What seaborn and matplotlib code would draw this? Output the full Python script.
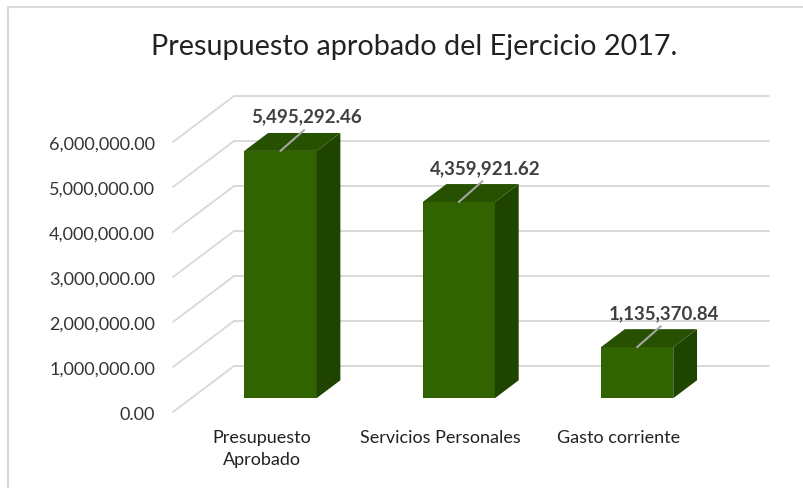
import matplotlib.pyplot as plt
import seaborn as sns
import pandas as pd
import numpy as np
from matplotlib.patches import Polygon
from matplotlib.lines import Line2D

# datos
categorias = ['Presupuesto\nAprobado', 'Servicios Personales', 'Gasto corriente']
montos = [5495292.46, 4359921.62, 1135370.84]
yticks = [0, 1000000, 2000000, 3000000, 4000000, 5000000, 6000000]
titulo = 'Presupuesto aprobado del Ejercicio 2017.'

c_front = '#316300'
c_top = '#275000'
c_side = '#1f4400'
c_grid = '#d9d9d9'

sns.set_style('white')
plt.rcParams['font.family'] = ['Lato', 'DejaVu Sans']

df = pd.DataFrame({'cat': categorias, 'monto': montos})

fig = plt.figure(figsize=(8.04, 4.89), dpi=100)
ax = fig.add_axes([173 / 804, 1 - 413 / 489, 535 / 804, 270 / 489])

sns.barplot(data=df, x='cat', y='monto', color=c_front, width=0.405,
            saturation=1, linewidth=0, ax=ax, zorder=3)
ax.set_xlim(-0.5, len(categorias) - 0.5)
ax.set_ylim(0, 6000000)

# vector de profundidad (pixeles -> datos)
p0 = ax.transData.transform((0, 0))
DX, DY = ax.transData.inverted().transform(p0 + np.array([61, 46]) * fig.dpi / 100)
d1, d2 = 0.30, 0.69

# pared del fondo y lineas diagonales
for t in yticks:
    ax.plot([-0.5 + DX, len(categorias) - 0.5 + DX], [t + DY, t + DY],
            color=c_grid, lw=1.4, zorder=0, clip_on=False)
    ax.plot([-0.5, -0.5 + DX], [t, t + DY], color=c_grid, lw=1.3, zorder=0, clip_on=False)

# caras 3D de las barras
for p, v in zip(ax.patches, montos):
    x0, w, h = p.get_x(), p.get_width(), p.get_height()
    fx0 = x0 + d1 * DX
    fy0 = d1 * DY
    p.set_x(fx0)
    p.set_y(fy0)
    p.set_clip_on(False)
    fx1, fy1 = fx0 + w, fy0 + h
    bx, by = (d2 - d1) * DX, (d2 - d1) * DY
    ax.add_patch(Polygon([(fx1, fy0), (fx1 + bx, fy0 + by), (fx1 + bx, fy1 + by), (fx1, fy1)],
                         closed=True, color=c_side, lw=0, zorder=3, clip_on=False))
    ax.add_patch(Polygon([(fx0, fy1), (fx1, fy1), (fx1 + bx, fy1 + by), (fx0 + bx, fy1 + by)],
                         closed=True, color=c_top, lw=0, zorder=3, clip_on=False))
    xc = fx0 + w / 2
    ax.annotate('', xy=(xc, fy1), xytext=(17, 15), textcoords='offset points',
                arrowprops=dict(arrowstyle='-', color='#a6a6a6', lw=1.5, shrinkA=0, shrinkB=0),
                zorder=5, annotation_clip=False)
    ax.annotate(f'{v:,.2f}', xy=(xc, fy1), xytext=(19, 25), textcoords='offset points',
                ha='center', va='center', fontsize=13.5, fontweight='bold', color='#404040',
                zorder=5, annotation_clip=False)

ax.set_yticks(yticks)
ax.set_yticklabels([f'{t:,.2f}' for t in yticks])
ax.tick_params(axis='y', length=0, pad=13, labelsize=13, labelcolor='#333333')
ax.tick_params(axis='x', length=0, pad=12, labelsize=13, labelcolor='#222222')
for lbl in ax.get_xticklabels():
    lbl.set_linespacing(1.45)
ax.set_xlabel('')
ax.set_ylabel('')
for s in ax.spines.values():
    s.set_visible(False)

fig.text(414 / 804, 1 - 47 / 489, titulo, ha='center', va='center', fontsize=20.7, color='#222222')

# marco
fig.add_artist(Line2D([8 / 804, 8 / 804], [0, 1 - 8 / 489], color=c_grid, lw=1.5))
fig.add_artist(Line2D([8 / 804, 1], [1 - 8 / 489, 1 - 8 / 489], color=c_grid, lw=1.5))

fig.savefig('out.png', dpi=100)
